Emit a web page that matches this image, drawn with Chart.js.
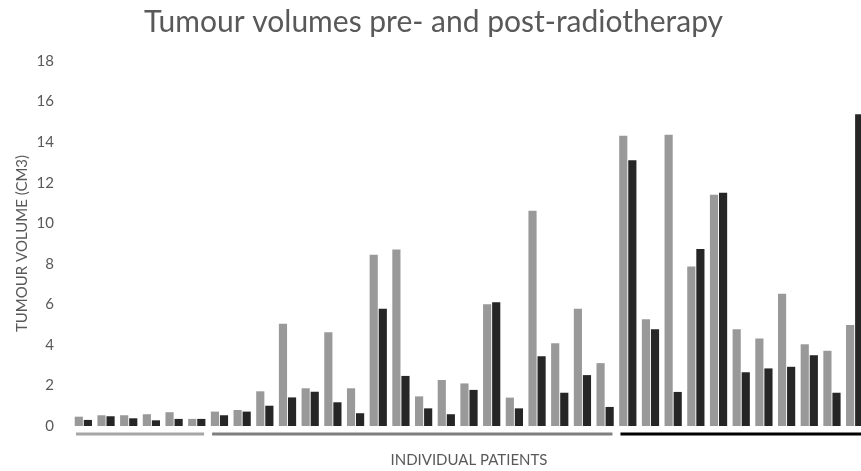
<!DOCTYPE html>
<html>
<head>
<meta charset="utf-8">
<script src="https://cdn.jsdelivr.net/npm/chart.js@4"></script>
<style>
  html, body { margin: 0; padding: 0; background: #ffffff; overflow: hidden; }
  #wrap { position: relative; width: 866px; height: 471px; }
</style>
</head>
<body>
<div id="wrap"><canvas id="c"></canvas></div>
<script>
// ---- Data ----
const patients = ["1","2","3","4","5","6","7","8","9","10","11","12","13","14","15","16","17","18",
  "19","20","21","22","23","24","25","26","27","28","29","30","31","32","33","34","35"];
const preRT  = [0.46, 0.53, 0.53, 0.58, 0.68, 0.35,
                0.71, 0.79, 1.71, 5.04, 1.86, 4.62, 1.86, 8.45, 8.70, 1.46, 2.27, 2.10,
                6.00, 1.40, 10.62, 4.08, 5.78, 3.10,
                14.31, 5.27, 14.36, 7.86, 11.40, 4.77, 4.31, 6.52, 4.03, 3.71, 4.98];
const postRT = [0.30, 0.48, 0.38, 0.28, 0.35, 0.35,
                0.53, 0.71, 1.00, 1.41, 1.69, 1.17, 0.63, 5.78, 2.47, 0.87, 0.58, 1.78,
                6.10, 0.87, 3.44, 1.64, 2.51, 0.94,
                13.10, 4.77, 1.68, 8.73, 11.50, 2.65, 2.84, 2.92, 3.49, 1.64, 15.37];
const yMin = 0, yMax = 18, yStep = 2;
// patient groups (index ranges) underlined below the axis
const groupStart = [0, 6, 24];
const groupEnd   = [5, 23, 34];
const groupColor = ["#a6a6a6", "#7f7f7f", "#000000"];

const FONT = "Lato, 'Open Sans', sans-serif";
const TEXT = "#595959";

const groupLines = {
  id: 'groupLines',
  afterDatasetsDraw(chart) {
    const x = chart.scales.x, ctx = chart.ctx;
    const half = (x.getPixelForValue(1) - x.getPixelForValue(0)) / 2;
    const y = chart.chartArea.bottom + 8;
    ctx.save();
    ctx.lineWidth = 3;
    for (let i = 0; i < groupStart.length; i++) {
      ctx.strokeStyle = groupColor[i];
      ctx.beginPath();
      ctx.moveTo(x.getPixelForValue(groupStart[i]) - half + 4, y);
      ctx.lineTo(x.getPixelForValue(groupEnd[i]) + half - 4, y);
      ctx.stroke();
    }
    ctx.restore();
  }
};

new Chart(document.getElementById('c'), {
  type: 'bar',
  data: {
    labels: patients,
    datasets: [
      { label: 'Pre-radiotherapy', data: preRT, backgroundColor: '#999999', borderWidth: 0 },
      { label: 'Post-radiotherapy', data: postRT, backgroundColor: '#262626', borderWidth: 0 }
    ]
  },
  options: {
    responsive: true,
    maintainAspectRatio: false,
    animation: false,
    layout: { padding: { left: 1, right: 0, top: 4, bottom: 2 } },
    plugins: {
      legend: { display: false },
      tooltip: { enabled: false },
      title: {
        display: true,
        text: 'Tumour volumes pre- and post-radiotherapy',
        color: TEXT,
        font: { family: FONT, size: 30, weight: 'normal' },
        padding: { top: 0, bottom: 21 }
      }
    },
    scales: {
      x: {
        categoryPercentage: 0.66,
        barPercentage: 1.0,
        grid: { display: false, drawTicks: false },
        border: { display: false },
        ticks: { display: false },
        title: {
          display: true,
          text: 'INDIVIDUAL PATIENTS',
          color: TEXT,
          font: { family: FONT, size: 15 },
          padding: { top: 25, bottom: 0 }
        }
      },
      y: {
        min: yMin, max: yMax,
        afterFit(scale) { scale.width = 71; },
        grid: { display: false, drawTicks: false },
        border: { display: false },
        ticks: { stepSize: yStep, color: TEXT, font: { family: FONT, size: 15 }, padding: 18 },
        title: {
          display: true,
          text: 'TUMOUR VOLUME (CM3)',
          color: TEXT,
          font: { family: FONT, size: 15 },
          padding: { top: 12, bottom: 0 }
        }
      }
    }
  },
  plugins: [groupLines]
});
</script>
</body>
</html>
